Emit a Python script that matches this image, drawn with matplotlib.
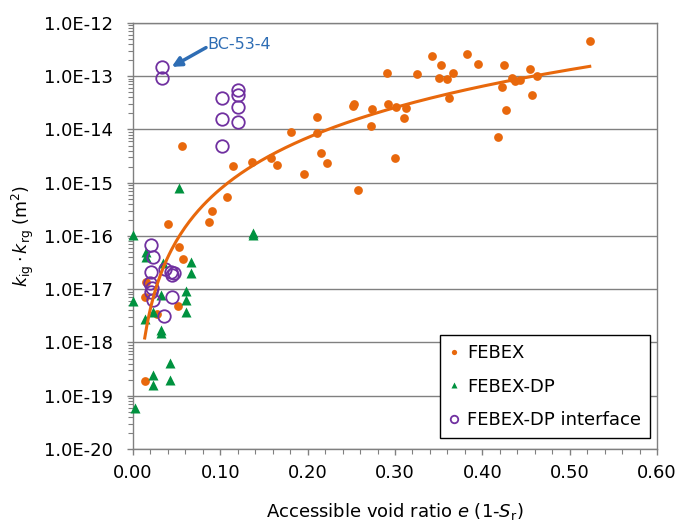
import numpy as np
import matplotlib.pyplot as plt
from matplotlib.ticker import MultipleLocator, FuncFormatter, LogLocator, NullFormatter, FixedLocator

# FEBEX
febex_x = [0.0565, 0.291, 0.2516, 0.253, 0.2737, 0.2924, 0.3008, 0.3122, 0.3103, 0.2721,
           0.2103, 0.1805, 0.2103, 0.2157, 0.2222, 0.1576, 0.1652, 0.1363, 0.1145, 0.1958,
           0.2576, 0.2996, 0.108, 0.523, 0.342, 0.383, 0.3527, 0.395, 0.4248, 0.4542,
           0.3256, 0.3504, 0.3592, 0.366, 0.4336, 0.4374, 0.4431, 0.4622, 0.4229, 0.3615,
           0.4569, 0.4275, 0.4176, 0.0901, 0.0867, 0.0401, 0.053, 0.0576, 0.0145, 0.0134,
           0.052, 0.027, 0.0137]
febex_k = [4.8e-15, 1.17e-13, 2.75e-14, 3.0e-14, 2.45e-14, 3.0e-14, 2.7e-14, 2.5e-14, 1.66e-14, 1.17e-14,
           1.7e-14, 8.9e-15, 8.7e-15, 3.55e-15, 2.3e-15, 2.9e-15, 2.2e-15, 2.4e-15, 2.1e-15, 1.45e-15,
           7.2e-16, 2.9e-15, 5.5e-16, 4.6e-13, 2.4e-13, 2.6e-13, 1.6e-13, 1.7e-13, 1.6e-13, 1.38e-13,
           1.1e-13, 9.1e-14, 8.7e-14, 1.17e-13, 9.1e-14, 8.3e-14, 8.5e-14, 1.0e-13, 6.3e-14, 3.9e-14,
           4.5e-14, 2.35e-14, 7.1e-15, 2.9e-16, 1.8e-16, 1.7e-16, 6.3e-17, 3.7e-17, 1.38e-17, 7.1e-18,
           4.9e-18, 3.5e-18, 1.9e-19]

# FEBEX-DP
dp_x = [0.0523, 0.0, 0.137, 0.137, 0.0145, 0.0145, 0.034, 0.0668, 0.0668, 0.0607,
        0.0607, 0.0607, 0.0317, 0.0, 0.0134, 0.0226, 0.0317, 0.0317, 0.0424, 0.0232,
        0.0424, 0.0232, 0.0026]
dp_k = [8.1e-16, 1.05e-16, 1.12e-16, 1.05e-16, 4.9e-17, 4.1e-17, 3.1e-17, 3.3e-17, 2.0e-17, 9.3e-18,
        6.3e-18, 3.8e-18, 7.8e-18, 5.9e-18, 2.8e-18, 3.8e-18, 1.7e-18, 1.5e-18, 4.1e-19, 2.45e-19,
        2.0e-19, 1.6e-19, 6.0e-20]

# FEBEX-DP interface
int_x = [0.0328, 0.0328, 0.1023, 0.1023, 0.1023, 0.1202, 0.1202, 0.1202, 0.1202, 0.0203,
         0.0233, 0.0203, 0.0363, 0.0432, 0.0447, 0.0469, 0.0195, 0.0218, 0.0203, 0.0226,
         0.0447, 0.0355]
int_k = [1.51e-13, 9.1e-14, 3.9e-14, 1.58e-14, 5.0e-15, 5.4e-14, 4.5e-14, 2.6e-14, 1.38e-14, 6.8e-17,
         4.0e-17, 2.1e-17, 2.45e-17, 2.15e-17, 1.86e-17, 2.0e-17, 1.29e-17, 1.07e-17, 8.9e-18, 6.3e-18,
         7.1e-18, 3.2e-18]

y_ticks = [1e-20, 1e-19, 1e-18, 1e-17, 1e-16, 1e-15, 1e-14, 1e-13, 1e-12]

orange = '#E8680C'
green = '#00923F'
purple = '#7030A0'
blue = '#2E6DB4'

fig = plt.figure(figsize=(6.78, 5.25), dpi=100)
ax = fig.add_axes([0.1962, 0.1448, 0.7728, 0.8114])

ax.set_yscale('log')
ax.set_xlim(0, 0.6)
ax.set_ylim(1e-20, 1e-12)

ax.grid(True, axis='y', which='major', color='#808080', lw=1)
ax.set_axisbelow(True)

ax.plot(febex_x, febex_k, 'o', color=orange, ms=6.3, mec='none', label='FEBEX', zorder=3)
ax.plot(dp_x, dp_k, '^', color=green, ms=6.5, mec='none', label='FEBEX-DP', zorder=3, clip_on=False)
ax.plot(int_x, int_k, 'o', mfc='none', mec=purple, ms=9, mew=1.3, label='FEBEX-DP interface', zorder=3)

# power trendline (least squares in log-log, as excel does)
fx = np.array(febex_x)
fk = np.array(febex_k)
b, lna = np.polyfit(np.log(fx), np.log(fk), 1)
xt = np.linspace(fx.min(), fx.max(), 200)
ax.plot(xt, np.exp(lna) * xt ** b, color=orange, lw=2.2, zorder=4)

# BC-53-4 label
ax.annotate('', xy=(0.0443, 1.5e-13), xytext=(0.0836, 3.45e-13),
            arrowprops=dict(arrowstyle='-|>', color=blue, lw=2.5, mutation_scale=14,
                            shrinkA=0, shrinkB=0))
ax.text(0.085, 3.9e-13, 'BC-53-4', color=blue, fontsize=11.5, ha='left', va='center')

ax.xaxis.set_major_locator(MultipleLocator(0.1))
ax.xaxis.set_minor_locator(MultipleLocator(0.02))
ax.xaxis.set_major_formatter(FuncFormatter(lambda v, p: f'{v:.2f}'))
ax.yaxis.set_major_locator(FixedLocator(y_ticks))
ax.yaxis.set_minor_locator(LogLocator(base=10, subs=np.arange(2, 10), numticks=20))
ax.yaxis.set_minor_formatter(NullFormatter())
ax.yaxis.set_major_formatter(FuncFormatter(lambda v, p: f'{v:.1E}'))

ax.tick_params(axis='both', which='major', direction='out', length=4.5, width=1,
               color='#808080', labelsize=13)
ax.tick_params(axis='y', which='major', pad=10)
ax.tick_params(axis='x', which='major', pad=6)
ax.tick_params(axis='both', which='minor', direction='out', length=3.5, width=0.8, color='#808080')

for s in ax.spines.values():
    s.set_color('#808080')
    s.set_linewidth(1)

ax.set_xlabel(r'Accessible void ratio $e$ (1-$S_{\mathrm{r}}$)', fontsize=13, labelpad=14)
ax.set_ylabel(r'$k_{\mathrm{ig}}\cdot k_{\mathrm{rg}}$ (m$^2$)', fontsize=12.5, labelpad=6)

leg = ax.legend(loc='lower right', bbox_to_anchor=(0.9866, 0.0258), fontsize=13,
                fancybox=False, edgecolor='black', framealpha=1, markerscale=0.6,
                handlelength=0.6, handletextpad=0.4, labelspacing=0.85, borderpad=0.5,
                borderaxespad=0)
leg.get_frame().set_linewidth(1)

fig.savefig('out.png', dpi=100)
